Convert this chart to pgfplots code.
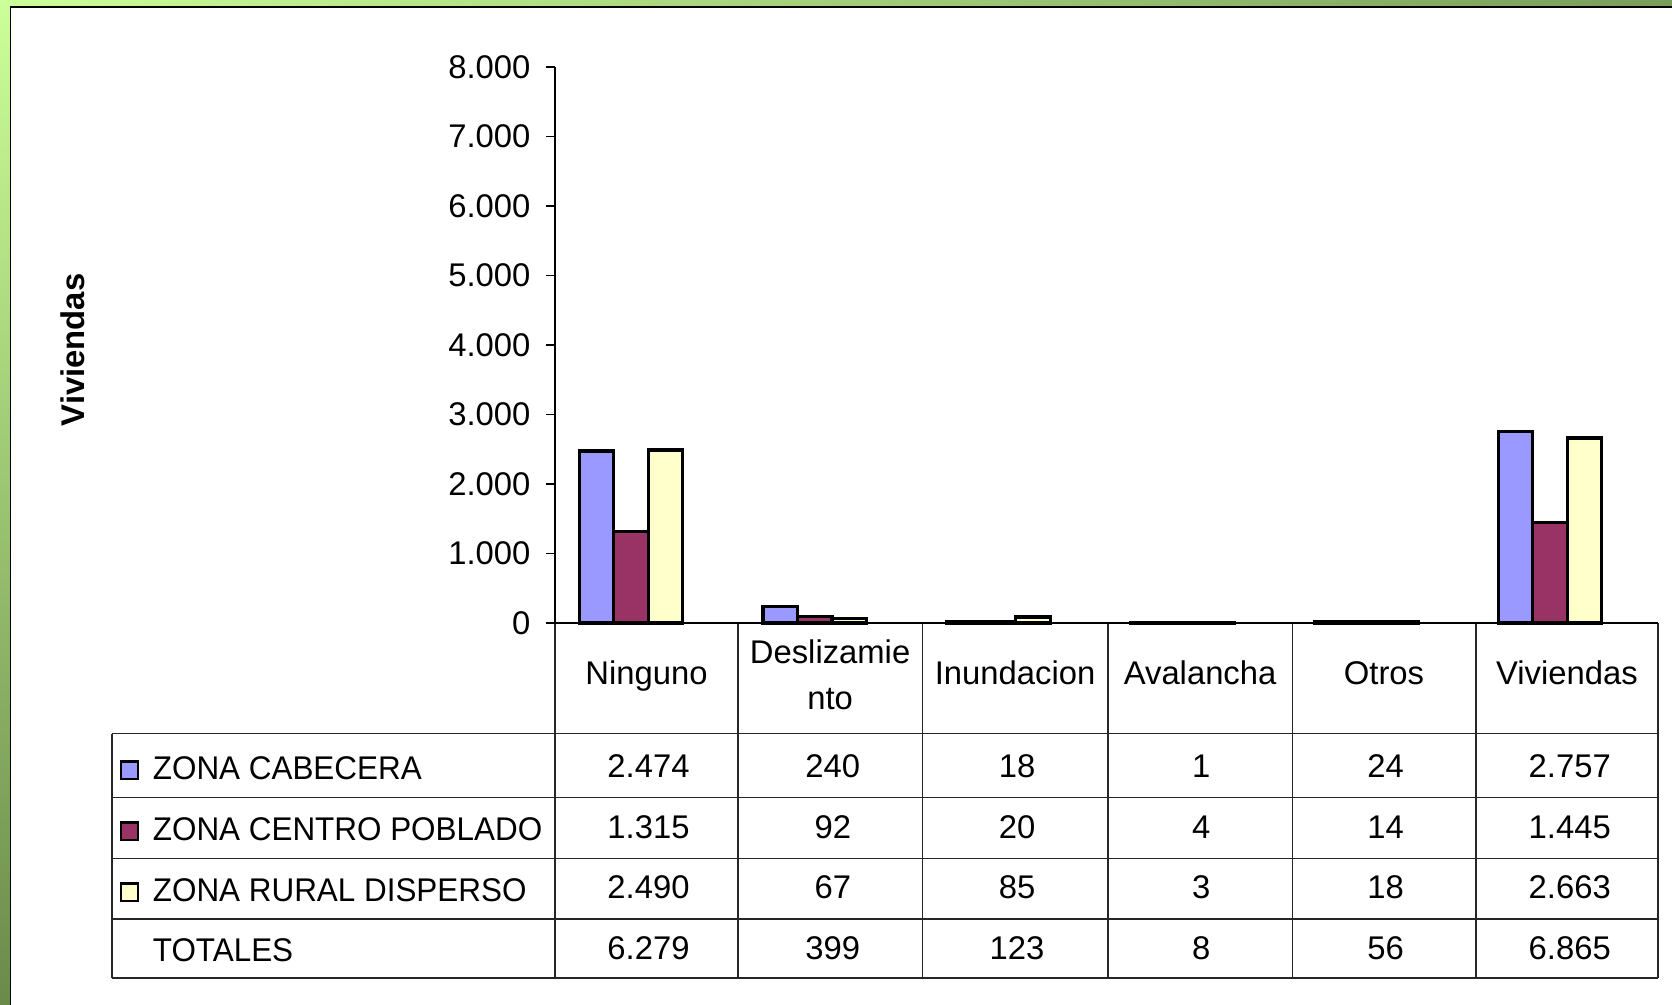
\documentclass[border=0pt]{standalone}
\usepackage{fontspec}
\setmainfont{Liberation Sans}
\usepackage{pgfplots}
\pgfplotsset{compat=1.18}
\usetikzlibrary{shadings}
\definecolor{cab}{HTML}{9999FF}
\definecolor{cen}{HTML}{993366}
\definecolor{rur}{HTML}{FFFFCC}
\definecolor{gA}{HTML}{CCFF99}
\definecolor{gB}{HTML}{7A9E5A}
\definecolor{gC}{HTML}{6A8A4A}
\definecolor{gD}{HTML}{5A7A3E}
\newcommand{\tf}{\fontsize{16.4}{19}\selectfont}
\begin{document}
\begin{tikzpicture}[font=\tf]
\begin{scope}[x=0.5pt,y=-0.5pt]
\useasboundingbox (0,0) rectangle (1672,1005);
\shade[upper left=gA, upper right=gB, lower left=gC, lower right=gD] (0,0) rectangle (1672,1005);
\fill[white] (10.5,7) rectangle (1672,1005);
\draw[line width=0.8pt] (10.5,1005) -- (10.5,7) -- (1672,7);
\coordinate (O) at (555,623);
% table grid
\draw[line width=0.75pt, black!85] (112,733.6) -- (1658,733.6);
\draw[line width=0.75pt, black!85] (112,797.6) -- (1658,797.6);
\draw[line width=0.75pt, black!85] (112,858.4) -- (1658,858.4);
\draw[line width=0.75pt, black!85] (112,919.2) -- (1658,919.2);
\draw[line width=0.75pt, black!85] (112,977.8) -- (1658,977.8);
\draw[line width=0.75pt, black!85] (112,733.6) -- (112,977.8);
\foreach \xx in {555,737.9,922.3,1107.9,1292.3,1475.8,1658}{
  \draw[line width=0.75pt, black!85] (\xx,623) -- (\xx,977.8);
}
% header labels
\node[anchor=base] at (646.5,684) {Ninguno};
\node[anchor=base] at (830.1,663) {Deslizamie};
\node[anchor=base] at (830.1,709) {nto};
\node[anchor=base] at (1015.1,684) {Inundacion};
\node[anchor=base] at (1200.1,684) {Avalancha};
\node[anchor=base] at (1384,684) {Otros};
\node[anchor=base] at (1566.9,684) {Viviendas};
% row labels
\filldraw[fill=cab, draw=black, line width=1.3pt] (121,761.5) rectangle (138,779);
\filldraw[fill=cen, draw=black, line width=1.3pt] (121,822.5) rectangle (138,840);
\filldraw[fill=rur, draw=black, line width=1.3pt] (121,883.5) rectangle (138,901);
\node[anchor=base west, inner sep=0pt, xscale=0.958] at (152.5,779.5) {ZONA CABECERA};
\node[anchor=base west, inner sep=0pt, xscale=0.958] at (152.5,840.3) {ZONA CENTRO POBLADO};
\node[anchor=base west, inner sep=0pt, xscale=0.958] at (152.5,901.1) {ZONA RURAL DISPERSO};
\node[anchor=base west, inner sep=0pt, xscale=0.958] at (152.5,961.5) {TOTALES};
% values
\foreach \v [count=\i from 0] in {2.474,240,18,1,24,2.757}{
  \node[anchor=base] at (648.5+184.25*\i,777) {\v};}
\foreach \v [count=\i from 0] in {1.315,92,20,4,14,1.445}{
  \node[anchor=base] at (648.5+184.25*\i,838) {\v};}
\foreach \v [count=\i from 0] in {2.490,67,85,3,18,2.663}{
  \node[anchor=base] at (648.5+184.25*\i,898.8) {\v};}
\foreach \v [count=\i from 0] in {6.279,399,123,8,56,6.865}{
  \node[anchor=base] at (648.5+184.25*\i,959.5) {\v};}
% y label
\node[rotate=90, font=\tf\bfseries] at (72.5,350) {Viviendas};
\end{scope}
\begin{axis}[
  at={(O)}, anchor=south west, scale only axis,
  width=551.5pt, height=278pt,
  xmin=-0.5, xmax=5.5, ymin=0, ymax=8000,
  clip=false,
  axis lines*=left,
  axis line style={line width=0.75pt, black},
  xtick=\empty, ytick={0,1000,...,8000},
  scaled y ticks=false,
  tick align=outside, major tick length=4.5pt,
  tick style={line width=0.75pt, black},
  yticklabel style={font=\tf, anchor=east, xshift=-4.25pt},
  /pgf/number format/1000 sep={.},
  /pgf/number format/assume math mode=true,
]
\addplot[ybar, bar width=0.1875, bar shift=-0.2745, fill=cab, draw=black, line width=1.6pt]
  coordinates {(0,2474) (1,240) (2,18) (3,1) (4,24) (5,2757)};
\addplot[ybar, bar width=0.1875, bar shift=-0.087, fill=cen, draw=black, line width=1.6pt]
  coordinates {(0,1315) (1,92) (2,20) (3,4) (4,14) (5,1445)};
\addplot[ybar, bar width=0.1875, bar shift=0.1005, fill=rur, draw=black, line width=1.6pt]
  coordinates {(0,2490) (1,67) (2,85) (3,3) (4,18) (5,2663)};
\end{axis}
\end{tikzpicture}
\end{document}
